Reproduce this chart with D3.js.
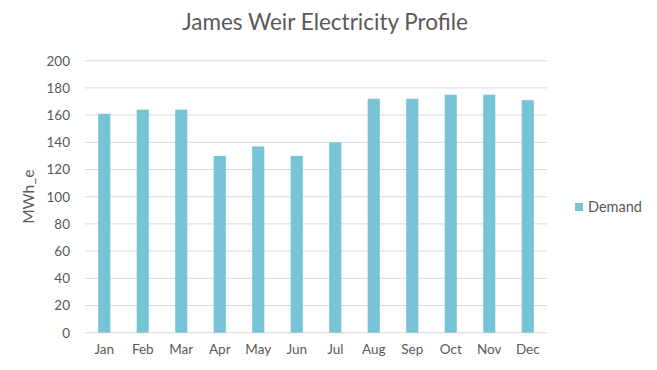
<!DOCTYPE html>
<html>
<head>
<meta charset="utf-8">
<script src="https://cdn.jsdelivr.net/npm/d3@7"></script>
<style>
  body { margin: 0; background: #fff; }
  text { font-family: Lato, "Open Sans", sans-serif; fill: #595959; }
</style>
</head>
<body>
<div id="chart"></div>
<script>
var months = ["Jan", "Feb", "Mar", "Apr", "May", "Jun", "Jul", "Aug", "Sep", "Oct", "Nov", "Dec"]
var demand = [161, 164, 164, 130, 137, 130, 140, 172, 172, 175, 175, 171]
var yTicks = [0, 20, 40, 60, 80, 100, 120, 140, 160, 180, 200]

var width = 657, height = 370
var margin = { top: 60.7, right: 110, bottom: 37.3, left: 85 }
var barColor = "#77c4d6"

var svg = d3.select("#chart")
    .append("svg")
    .attr("width", width)
    .attr("height", height)

var x = d3.scaleBand()
    .domain(months)
    .range([margin.left, width - margin.right])
    .paddingInner(0.685)
    .paddingOuter(0.3425)

var y = d3.scaleLinear()
    .domain([0, 200])
    .range([height - margin.bottom, margin.top])

// gridlines
svg.append("g")
    .selectAll("line")
    .data(yTicks)
    .enter()
    .append("line")
    .attr("x1", margin.left)
    .attr("x2", width - margin.right)
    .attr("y1", d => y(d))
    .attr("y2", d => y(d))
    .attr("stroke", "#d9d9d9")
    .attr("stroke-width", 1)

// y axis labels
var yAxis = svg.append("g")
    .attr("transform", "translate(" + (margin.left - 8) + ",0)")
    .call(d3.axisLeft(y).tickValues(yTicks).tickSize(0).tickPadding(7))
yAxis.select(".domain").remove()
yAxis.selectAll("text").style("font-size", "13.5px").attr("fill", "#595959")

// bars
svg.selectAll("rect.bar")
    .data(demand)
    .enter()
    .append("rect")
    .attr("class", "bar")
    .attr("x", (d, i) => x(months[i]))
    .attr("y", d => y(d))
    .attr("width", x.bandwidth())
    .attr("height", d => y(0) - y(d))
    .attr("fill", barColor)

// x axis labels
var xAxis = svg.append("g")
    .attr("transform", "translate(0," + (height - margin.bottom) + ")")
    .call(d3.axisBottom(x).tickSize(0).tickPadding(12))
xAxis.select(".domain").remove()
xAxis.selectAll("text").style("font-size", "13.5px").attr("fill", "#595959")

// title
svg.append("text")
    .attr("x", 325)
    .attr("y", 30)
    .attr("text-anchor", "middle")
    .style("font-size", "22.5px")
    .text("James Weir Electricity Profile")

// y label
svg.append("text")
    .attr("transform", "translate(34," + ((y(0) + y(200)) / 2) + ") rotate(-90)")
    .attr("text-anchor", "middle")
    .style("font-size", "15.5px")
    .text("MWh_e")

// legend
var legend = svg.append("g").attr("transform", "translate(575,203)")
legend.append("rect")
    .attr("width", 8)
    .attr("height", 8)
    .attr("fill", barColor)
legend.append("text")
    .attr("x", 13)
    .attr("y", 9)
    .style("font-size", "14.5px")
    .text("Demand")
</script>
</body>
</html>
